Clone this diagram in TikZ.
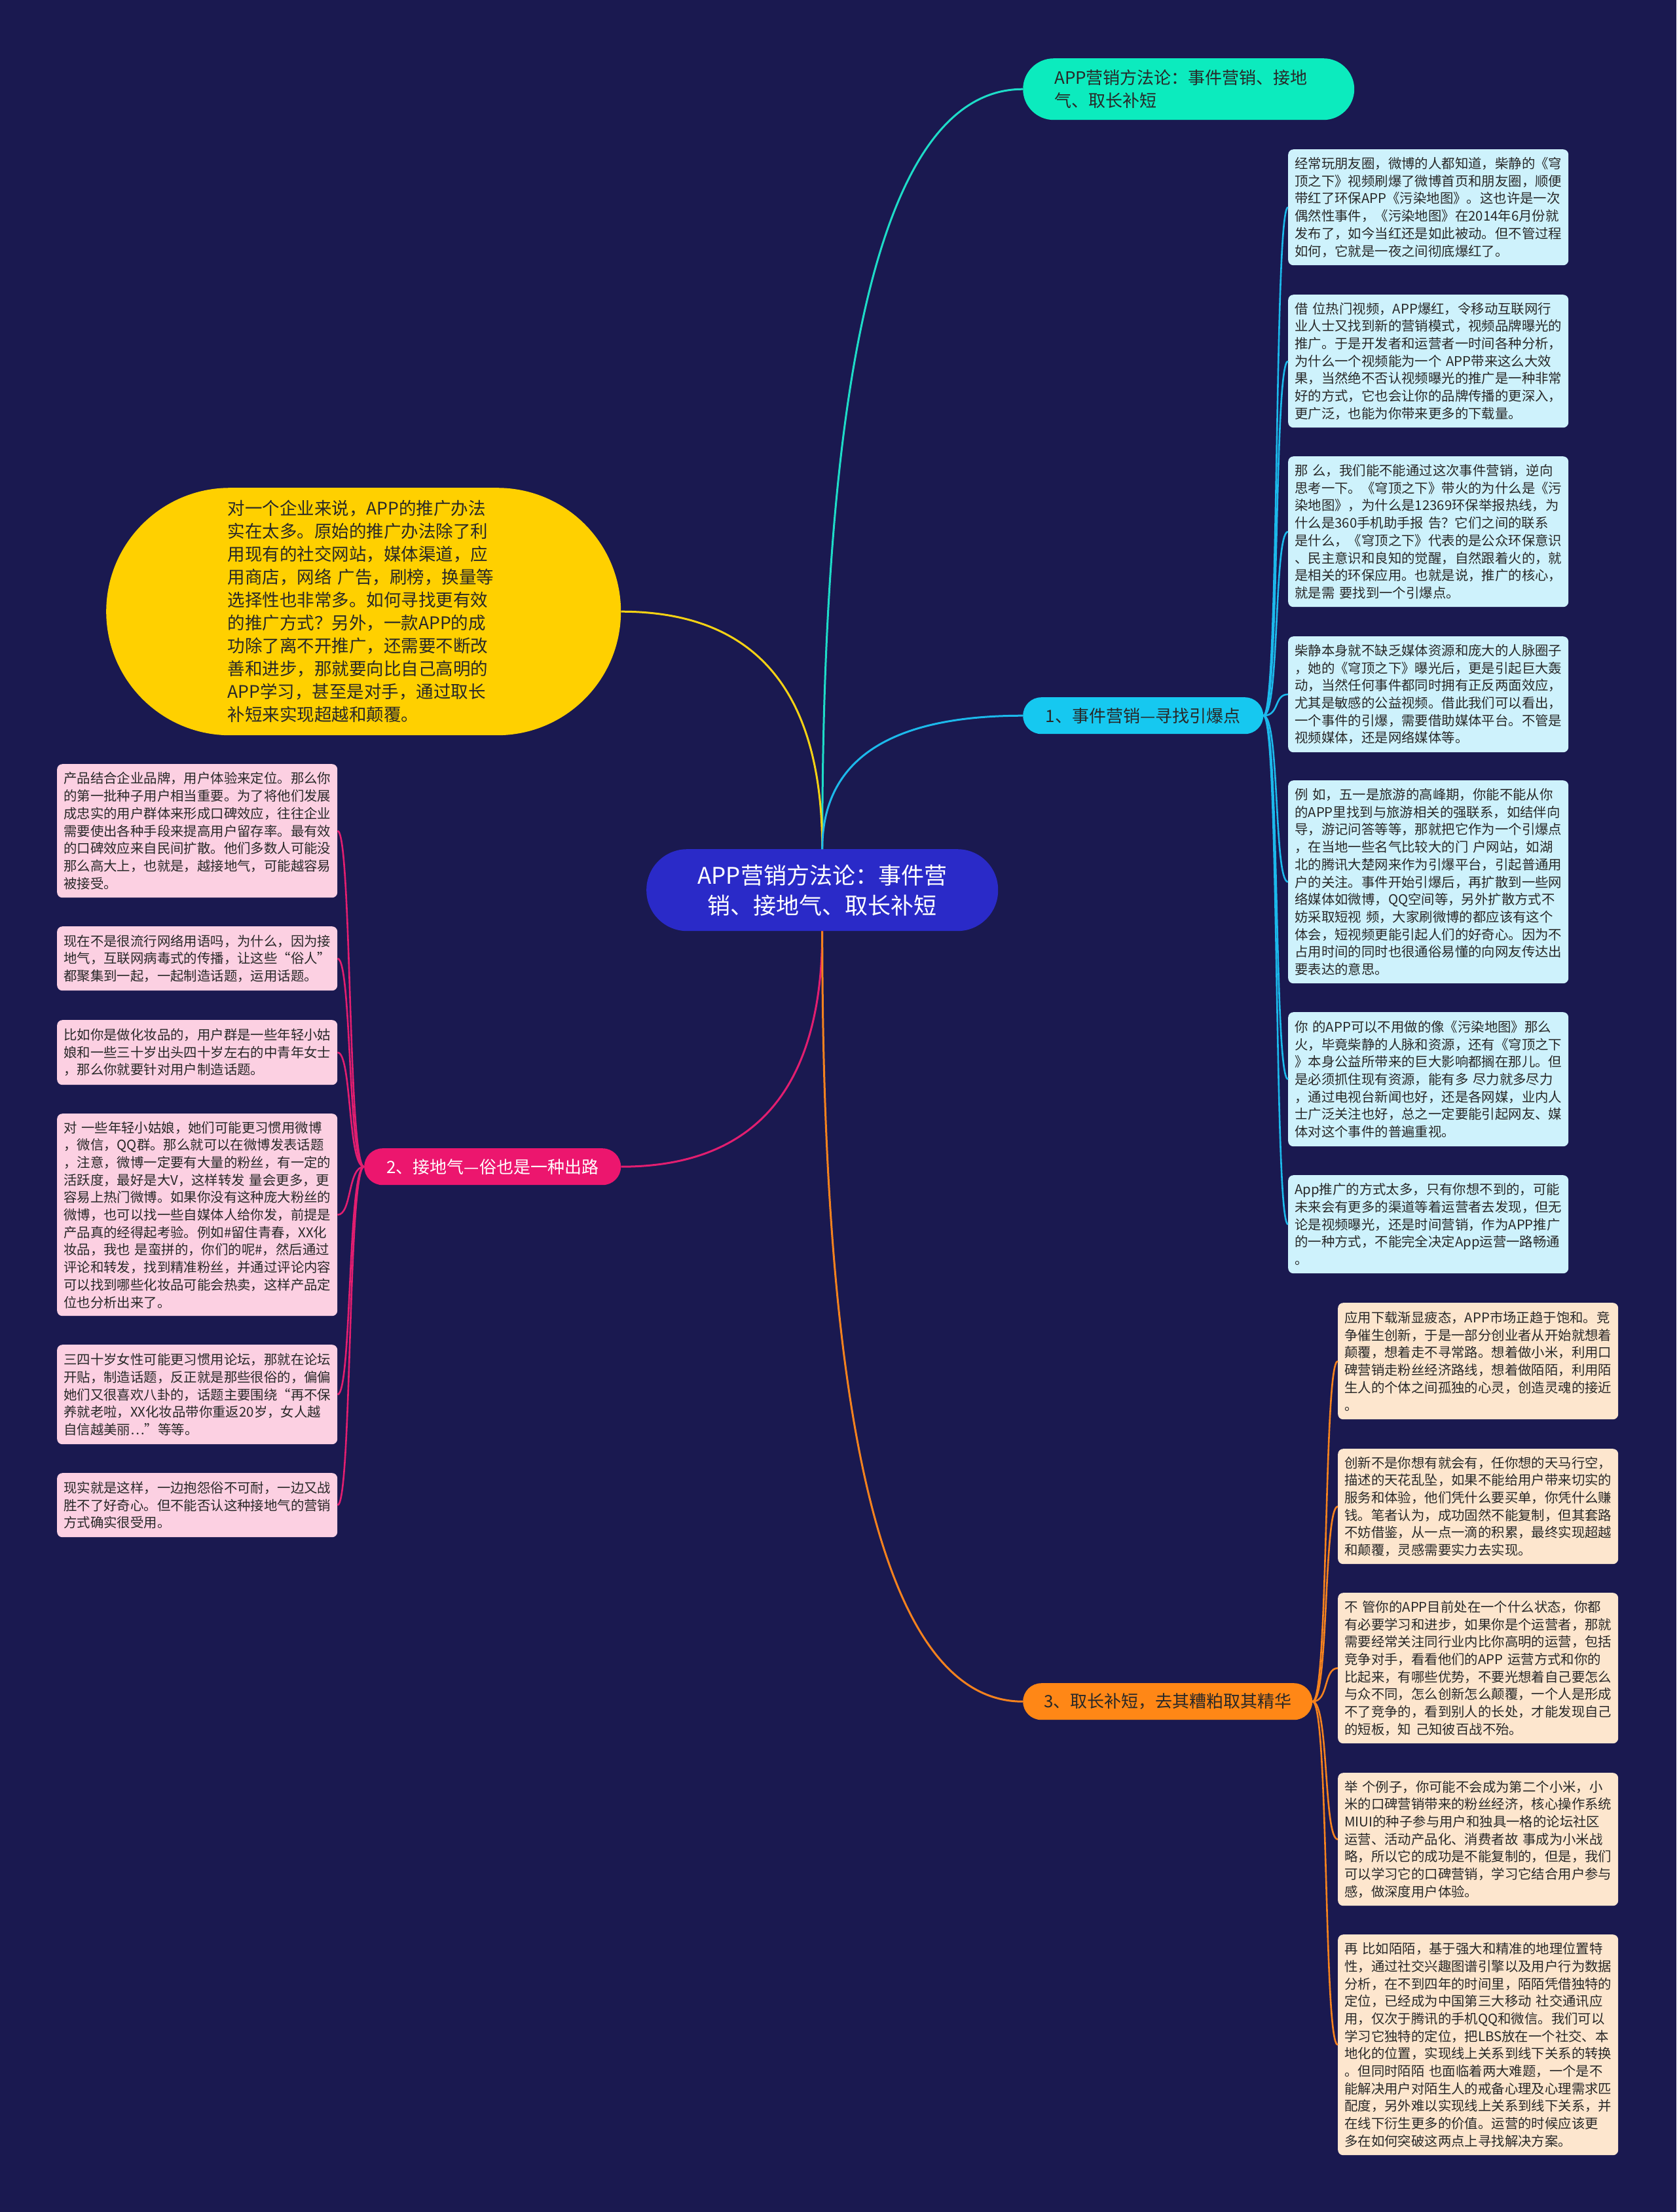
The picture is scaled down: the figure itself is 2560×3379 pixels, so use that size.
\documentclass[tikz,border=0pt]{standalone}
\usepackage{fontspec}
\setmainfont{Noto Sans CJK SC}
\usetikzlibrary{calc}
\definecolor{bg}{RGB}{26,25,80}
\definecolor{txt}{RGB}{40,40,40}
\definecolor{cenfill}{RGB}{42,42,200}
\definecolor{topfill}{RGB}{12,235,190}
\definecolor{topline}{RGB}{30,220,200}
\definecolor{lafill}{RGB}{22,200,240}
\definecolor{laline}{RGB}{28,185,235}
\definecolor{rfill}{RGB}{206,242,252}
\definecolor{lbfill}{RGB}{236,22,110}
\definecolor{lbline}{RGB}{226,30,112}
\definecolor{pfill}{RGB}{252,208,226}
\definecolor{lcfill}{RGB}{255,135,22}
\definecolor{lcline}{RGB}{245,130,30}
\definecolor{ofill}{RGB}{253,230,206}
\definecolor{yelfill}{RGB}{255,208,0}
\definecolor{yelline}{RGB}{245,210,20}
\tikzset{
  textbox/.style={anchor=north west, rounded corners=8pt, text width=408pt, inner xsep=10pt, inner ysep=0pt, align=left, text=txt, font=\fontsize{20.4pt}{26.7pt}\selectfont},
  rbox/.style={textbox, fill=rfill},
  pbox/.style={textbox, fill=pfill},
  obox/.style={textbox, fill=ofill},
  pill/.style={anchor=north west, rounded corners=28pt, minimum height=56pt, inner sep=0pt, font=\fontsize{26pt}{32pt}\selectfont},
  mainconn/.style={line width=3pt},
  subconn/.style={line width=2.6pt}
}
\begin{document}
\begin{tikzpicture}[x=1pt,y=-1pt]
\fill[bg] (0,0) rectangle (2560,3379);
\useasboundingbox (0,0) rectangle (2560,3379);

% central topic
\node[fill=cenfill, rounded corners=62pt, minimum width=537pt, minimum height=125pt, anchor=north west, align=center, text=white, inner sep=0pt, font=\fontsize{35pt}{46pt}\selectfont] (cen) at (987,1297) {APP营销方法论：事件营\\销、接地气、取长补短};

% top node
\node[fill=topfill, rounded corners=47pt, minimum width=504pt, minimum height=94pt, anchor=north west, text width=410pt, inner xsep=48pt, inner ysep=0pt, align=left, text=txt, font=\fontsize{26pt}{35pt}\selectfont] (top) at (1562,89) {APP营销方法论：事件营销、接地\\气、取长补短};

% yellow node
\node[fill=yelfill, rounded corners=189pt, minimum width=786pt, minimum height=378pt, anchor=north west, inner sep=0pt, text width=415pt, align=left, text=txt, font=\fontsize{26.5pt}{35pt}\selectfont] (yel) at (162,745) {对一个企业来说，APP的推广办法\\
实在太多。原始的推广办法除了利\\
用现有的社交网站，媒体渠道，应\\
用商店，网络~广告，刷榜，换量等\\
选择性也非常多。如何寻找更有效\\
的推广方式？另外，一款APP的成\\
功除了离不开推广，还需要不断改\\
善和进步，那就要向比自己高明的\\
APP学习，甚至是对手，通过取长\\
补短来实现超越和颠覆。};

% branch labels
\node[pill, fill=lafill, text=txt, minimum width=367pt] (la) at (1562,1065) {1、事件营销—寻找引爆点};
\node[pill, fill=lbfill, text=white, minimum width=392pt] (lb) at (556,1754) {2、接地气—俗也是一种出路};
\node[pill, fill=lcfill, text=txt, minimum width=442pt] (lc) at (1562,2571) {3、取长补短，去其糟粕取其精华};

% right boxes
\node[rbox, minimum height=177pt] (r1) at (1967,228) {经常玩朋友圈，微博的人都知道，柴静的《穹\\
顶之下》视频刷爆了微博首页和朋友圈，顺便\\
带红了环保APP《污染地图》。这也许是一次\\
偶然性事件，《污染地图》在2014年6月份就\\
发布了，如今当红还是如此被动。但不管过程\\
如何，它就是一夜之间彻底爆红了。};
\node[rbox, minimum height=203pt] (r2) at (1967,450) {借~位热门视频，APP爆红，令移动互联网行\\
业人士又找到新的营销模式，视频品牌曝光的\\
推广。于是开发者和运营者一时间各种分析，\\
为什么一个视频能为一个~APP带来这么大效\\
果，当然绝不否认视频曝光的推广是一种非常\\
好的方式，它也会让你的品牌传播的更深入，\\
更广泛，也能为你带来更多的下载量。};
\node[rbox, minimum height=230pt] (r3) at (1967,697) {那~么，我们能不能通过这次事件营销，逆向\\
思考一下。《穹顶之下》带火的为什么是《污\\
染地图》，为什么是12369环保举报热线，为\\
什么是360手机助手报~告？它们之间的联系\\
是什么，《穹顶之下》代表的是公众环保意识\\
、民主意识和良知的觉醒，自然跟着火的，就\\
是相关的环保应用。也就是说，推广的核心，\\
就是需~要找到一个引爆点。};
\node[rbox, minimum height=177pt] (r4) at (1967,972) {柴静本身就不缺乏媒体资源和庞大的人脉圈子\\
，她的《穹顶之下》曝光后，更是引起巨大轰\\
动，当然任何事件都同时拥有正反两面效应，\\
尤其是敏感的公益视频。借此我们可以看出，\\
一个事件的引爆，需要借助媒体平台。不管是\\
视频媒体，还是网络媒体等。};
\node[rbox, minimum height=310pt] (r5) at (1967,1192) {例~如，五一是旅游的高峰期，你能不能从你\\
的APP里找到与旅游相关的强联系，如结伴向\\
导，游记问答等等，那就把它作为一个引爆点\\
，在当地一些名气比较大的门~户网站，如湖\\
北的腾讯大楚网来作为引爆平台，引起普通用\\
户的关注。事件开始引爆后，再扩散到一些网\\
络媒体如微博，QQ空间等，另外扩散方式不\\
妨采取短视~频，大家刷微博的都应该有这个\\
体会，短视频更能引起人们的好奇心。因为不\\
占用时间的同时也很通俗易懂的向网友传达出\\
要表达的意思。};
\node[rbox, minimum height=205pt] (r6) at (1967,1546) {你~的APP可以不用做的像《污染地图》那么\\
火，毕竟柴静的人脉和资源，还有《穹顶之下\\
》本身公益所带来的巨大影响都搁在那儿。但\\
是必须抓住现有资源，能有多~尽力就多尽力\\
，通过电视台新闻也好，还是各网媒，业内人\\
士广泛关注也好，总之一定要能引起网友、媒\\
体对这个事件的普遍重视。};
\node[rbox, minimum height=150pt] (r7) at (1967,1795) {App推广的方式太多，只有你想不到的，可能\\
未来会有更多的渠道等着运营者去发现，但无\\
论是视频曝光，还是时间营销，作为APP推广\\
的一种方式，不能完全决定App运营一路畅通\\
。};

% left boxes
\node[pbox, minimum height=204pt] (p1) at (87,1167) {产品结合企业品牌，用户体验来定位。那么你\\
的第一批种子用户相当重要。为了将他们发展\\
成忠实的用户群体来形成口碑效应，往往企业\\
需要使出各种手段来提高用户留存率。最有效\\
的口碑效应来自民间扩散。他们多数人可能没\\
那么高大上，也就是，越接地气，可能越容易\\
被接受。};
\node[pbox, minimum height=98pt] (p2) at (87,1415) {现在不是很流行网络用语吗，为什么，因为接\\
地气，互联网病毒式的传播，让这些“俗人”\\
都聚集到一起，一起制造话题，运用话题。};
\node[pbox, minimum height=99pt] (p3) at (87,1558) {比如你是做化妆品的，用户群是一些年轻小姑\\
娘和一些三十岁出头四十岁左右的中青年女士\\
，那么你就要针对用户制造话题。};
\node[pbox, minimum height=309pt] (p4) at (87,1701) {对~一些年轻小姑娘，她们可能更习惯用微博\\
，微信，QQ群。那么就可以在微博发表话题\\
，注意，微博一定要有大量的粉丝，有一定的\\
活跃度，最好是大V，这样转发~量会更多，更\\
容易上热门微博。如果你没有这种庞大粉丝的\\
微博，也可以找一些自媒体人给你发，前提是\\
产品真的经得起考验。例如\#留住青春，XX化\\
妆品，我也~是蛮拼的，你们的呢\#，然后通过\\
评论和转发，找到精准粉丝，并通过评论内容\\
可以找到哪些化妆品可能会热卖，这样产品定\\
位也分析出来了。};
\node[pbox, minimum height=152pt] (p5) at (87,2054) {三四十岁女性可能更习惯用论坛，那就在论坛\\
开贴，制造话题，反正就是那些很俗的，偏偏\\
她们又很喜欢八卦的，话题主要围绕“再不保\\
养就老啦，XX化妆品带你重返20岁，女人越\\
自信越美丽…”等等。};
\node[pbox, minimum height=98pt] (p6) at (87,2250) {现实就是这样，一边抱怨俗不可耐，一边又战\\
胜不了好奇心。但不能否认这种接地气的营销\\
方式确实很受用。};

% orange boxes
\node[obox, minimum height=178pt] (o1) at (2043,1990) {应用下载渐显疲态，APP市场正趋于饱和。竞\\
争催生创新，于是一部分创业者从开始就想着\\
颠覆，想着走不寻常路。想着做小米，利用口\\
碑营销走粉丝经济路线，想着做陌陌，利用陌\\
生人的个体之间孤独的心灵，创造灵魂的接近\\
。};
\node[obox, minimum height=176pt] (o2) at (2043,2213) {创新不是你想有就会有，任你想的天马行空，\\
描述的天花乱坠，如果不能给用户带来切实的\\
服务和体验，他们凭什么要买单，你凭什么赚\\
钱。笔者认为，成功固然不能复制，但其套路\\
不妨借鉴，从一点一滴的积累，最终实现超越\\
和颠覆，灵感需要实力去实现。};
\node[obox, minimum height=230pt] (o3) at (2043,2433) {不~管你的APP目前处在一个什么状态，你都\\
有必要学习和进步，如果你是个运营者，那就\\
需要经常关注同行业内比你高明的运营，包括\\
竞争对手，看看他们的APP~运营方式和你的\\
比起来，有哪些优势，不要光想着自己要怎么\\
与众不同，怎么创新怎么颠覆，一个人是形成\\
不了竞争的，看到别人的长处，才能发现自己\\
的短板，知~己知彼百战不殆。};
\node[obox, minimum height=203pt] (o4) at (2043,2708) {举~个例子，你可能不会成为第二个小米，小\\
米的口碑营销带来的粉丝经济，核心操作系统\\
MIUI的种子参与用户和独具一格的论坛社区\\
运营、活动产品化、消费者故~事成为小米战\\
略，所以它的成功是不能复制的，但是，我们\\
可以学习它的口碑营销，学习它结合用户参与\\
感，做深度用户体验。};
\node[obox, minimum height=337pt] (o5) at (2043,2955) {再~比如陌陌，基于强大和精准的地理位置特\\
性，通过社交兴趣图谱引擎以及用户行为数据\\
分析，在不到四年的时间里，陌陌凭借独特的\\
定位，已经成为中国第三大移动~社交通讯应\\
用，仅次于腾讯的手机QQ和微信。我们可以\\
学习它独特的定位，把LBS放在一个社交、本\\
地化的位置，实现线上关系到线下关系的转换\\
。但同时陌陌~也面临着两大难题，一个是不\\
能解决用户对陌生人的戒备心理及心理需求匹\\
配度，另外难以实现线上关系到线下关系，并\\
在线下衍生更多的价值。运营的时候应该更\\
多在如何突破这两点上寻找解决方案。};

% main connectors
\draw[mainconn, topline] (cen.north) .. controls ($(cen.north)!0.667!(cen.north |- top.west)$) and ($(top.west)!0.667!(cen.north |- top.west)$) .. (top.west);
\draw[mainconn, yelline] (cen.north) .. controls ($(cen.north)!0.667!(cen.north |- yel.east)$) and ($(yel.east)!0.667!(cen.north |- yel.east)$) .. (yel.east);
\draw[mainconn, laline] (cen.north) .. controls ($(cen.north)!0.667!(cen.north |- la.west)$) and ($(la.west)!0.667!(cen.north |- la.west)$) .. (la.west);
\draw[mainconn, lbline] (cen.south) .. controls ($(cen.south)!0.667!(cen.south |- lb.east)$) and ($(lb.east)!0.667!(cen.south |- lb.east)$) .. (lb.east);
\draw[mainconn, lcline] (cen.south) .. controls ($(cen.south)!0.667!(cen.south |- lc.west)$) and ($(lc.west)!0.667!(cen.south |- lc.west)$) .. (lc.west);

% sub connectors
\foreach \n in {r1,r2,r3,r4,r5,r6,r7}
  \draw[subconn, laline] (la.east) .. controls +(25,0) and +(-22,0) .. (\n.west);
\foreach \n in {p1,p2,p3,p4,p5,p6}
  \draw[subconn, lbline] (lb.west) .. controls +(-25,0) and +(22,0) .. (\n.east);
\foreach \n in {o1,o2,o3,o4,o5}
  \draw[subconn, lcline] (lc.east) .. controls +(25,0) and +(-22,0) .. (\n.west);
\end{tikzpicture}
\end{document}
